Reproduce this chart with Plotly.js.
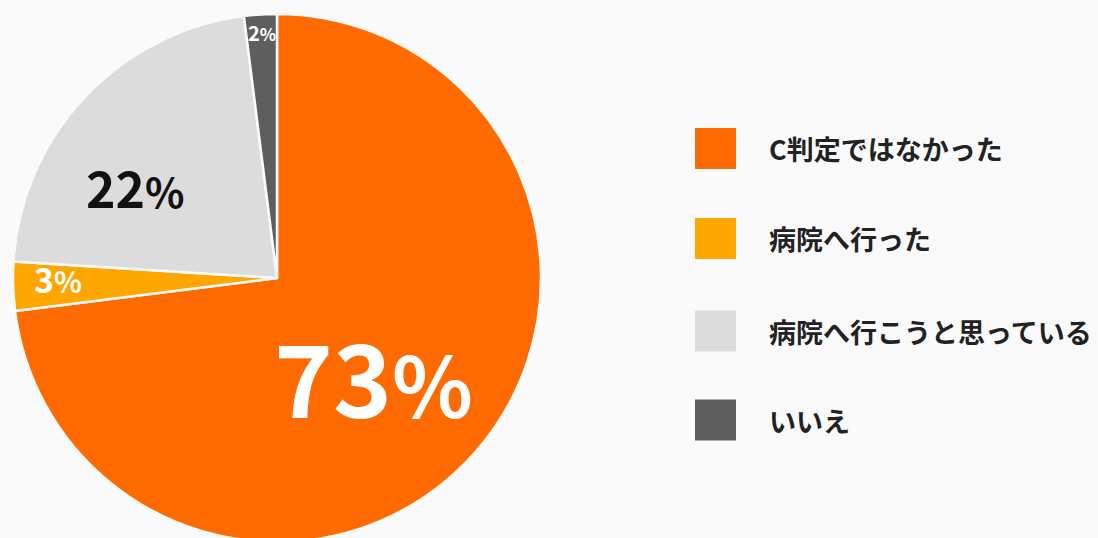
<!DOCTYPE html>
<html>
<head>
<meta charset="utf-8">
<script src="https://cdn.plot.ly/plotly-3.0.1.min.js"></script>
<style>
  html, body { margin: 0; padding: 0; background: #fafafa; overflow: hidden; }
  #chart { width: 1098px; height: 560px; }
</style>
</head>
<body>
<div id="chart"></div>
<script>
// ---- data ----
const categories = ["C判定ではなかった", "病院へ行った", "病院へ行こうと思っている", "いいえ"];
const values = [73, 3, 22, 2];
const colors = ["#ff6b00", "#ffa600", "#dcdcdc", "#5e5e5e"];

// ---- layout constants (pixels) ----
const W = 1098, H = 560;
const cx = 277, cy = 278, r = 264;
const FONT = '"Noto Sans CJK JP", "Noto Sans", sans-serif';

const px = x => x / W;
const py = y => (H - y) / H;

// label styles per slice (box centres in px)
const labelPos = [[373, 374], [58, 278], [135, 186], [262, 32]];
const labelSize = [100, 34, 50, 20];
const pctSize = [84, 29, 41, 17];
const labelColor = ["#ffffff", "#ffffff", "#111111", "#ffffff"];
const labelWeight = [700, 600, 700, 600];

const annotations = [];
values.forEach((v, i) => {
  annotations.push({
    xref: 'paper', yref: 'paper',
    x: px(labelPos[i][0]), y: py(labelPos[i][1]),
    xanchor: 'center', yanchor: 'middle',
    showarrow: false,
    text: v + '<span style="font-size:' + pctSize[i] + 'px">%</span>',
    font: { family: FONT, size: labelSize[i], color: labelColor[i], weight: labelWeight[i] }
  });
});

// custom legend
const legendY = [148.5, 238.5, 331, 420];
const sq = 41, sqX = 695, textX = 767;
const shapes = [];
categories.forEach((c, i) => {
  shapes.push({
    type: 'rect', xref: 'paper', yref: 'paper',
    x0: px(sqX), x1: px(sqX + sq),
    y0: py(legendY[i] + sq / 2), y1: py(legendY[i] - sq / 2),
    fillcolor: colors[i], line: { width: 0 }
  });
  annotations.push({
    xref: 'paper', yref: 'paper',
    x: px(textX), y: py(legendY[i]),
    xanchor: 'left', yanchor: 'middle',
    showarrow: false,
    text: c,
    font: { family: FONT, size: 27, color: '#222222', weight: 700 }
  });
});

const trace = {
  type: 'pie',
  labels: categories,
  values: values,
  sort: false,
  direction: 'clockwise',
  rotation: 0,
  textinfo: 'none',
  hoverinfo: 'none',
  marker: { colors: colors, line: { color: '#fafafa', width: 2.5 } },
  domain: { x: [px(cx - r), px(cx + r)], y: [py(cy + r), py(cy - r)] },
  showlegend: false
};

const layout = {
  width: W, height: H,
  margin: { l: 0, r: 0, t: 0, b: 0 },
  paper_bgcolor: '#fafafa',
  plot_bgcolor: '#fafafa',
  showlegend: false,
  annotations: annotations,
  shapes: shapes
};

Plotly.newPlot('chart', [trace], layout, { displayModeBar: false, staticPlot: true });
</script>
</body>
</html>
